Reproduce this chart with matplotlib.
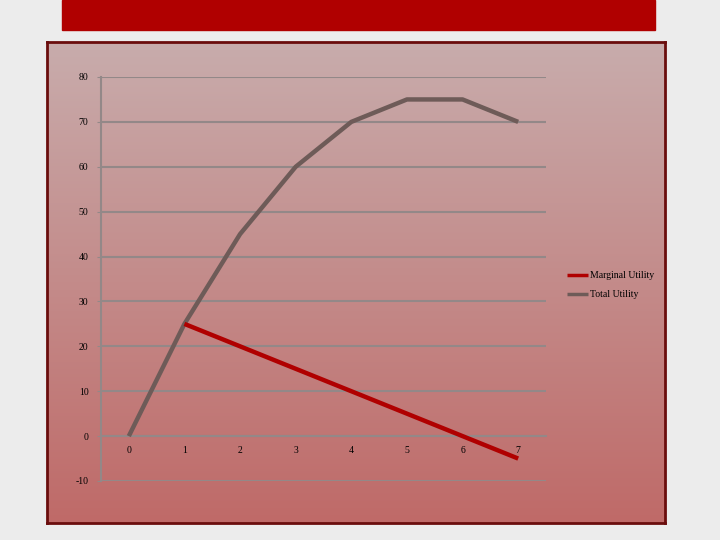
import numpy as np
import matplotlib
matplotlib.use("Agg")
import matplotlib.pyplot as plt
from matplotlib.patches import Rectangle

# === Données ===
quantity = [0, 1, 2, 3, 4, 5, 6, 7]
total_utility = [0, 25, 45, 60, 70, 75, 75, 70]
marginal_x = [1, 2, 3, 4, 5, 6, 7]
marginal_utility = [25, 20, 15, 10, 5, 0, -5]
y_ticks = [-10, 0, 10, 20, 30, 40, 50, 60, 70, 80]

plt.rcParams['font.family'] = ['Liberation Serif', 'DejaVu Serif']
plt.rcParams['axes.unicode_minus'] = False

fig = plt.figure(figsize=(7.2, 5.4), dpi=100)
fig.patch.set_facecolor('#ececec')

# Bandeau rouge en haut
fig.patches.append(Rectangle((62 / 720, 1 - 30 / 540), 593 / 720, 30 / 540,
                             transform=fig.transFigure, color='#b00000', zorder=0))

# Cadre du graphique avec dégradé
bx0, by0, bw, bh = 47 / 720, 1 - 523 / 540, 618 / 720, 481 / 540
bg = fig.add_axes([bx0, by0, bw, bh], zorder=0)
top = np.array([200, 172, 172]) / 255
bot = np.array([191, 106, 104]) / 255
t = np.linspace(0, 1, 256)[:, None]
grad = (top[None, :] * (1 - t) + bot[None, :] * t)[:, None, :]
bg.imshow(grad, aspect='auto', extent=[0, 1, 0, 1])
bg.set_xticks([])
bg.set_yticks([])
for s in bg.spines.values():
    s.set_color('#6a0d0d')
    s.set_linewidth(2)

# Axe principal
ax = fig.add_axes([101 / 720, 1 - 481 / 540, 445 / 720, 404 / 540], zorder=1)
ax.patch.set_alpha(0)
grid_c = '#938888'

ax.plot(quantity, total_utility, color='#6e5b58', lw=3.2, solid_capstyle='butt',
        label='Total Utility', zorder=3)
ax.plot(marginal_x, marginal_utility, color='#b00000', lw=3.2, solid_capstyle='butt',
        label='Marginal Utility', zorder=4)

ax.set_xlim(-0.5, 7.5)
ax.set_ylim(-10, 80)
ax.set_yticks(y_ticks)
ax.set_xticks(quantity)
ax.yaxis.grid(True, color=grid_c, lw=1.5)
ax.set_axisbelow(True)

for side in ['top', 'right']:
    ax.spines[side].set_visible(False)
ax.spines['left'].set_color(grid_c)
ax.spines['left'].set_linewidth(1.5)
ax.spines['bottom'].set_position(('data', 0))
ax.spines['bottom'].set_color(grid_c)
ax.spines['bottom'].set_linewidth(1.5)

ax.tick_params(axis='y', length=3, color=grid_c, labelsize=7, pad=6)
ax.tick_params(axis='x', length=0, labelsize=7, pad=7)

# Légende (Marginal en premier)
h, l = ax.get_legend_handles_labels()
leg = fig.legend([h[1], h[0]], [l[1], l[0]], loc='upper left',
                 bbox_to_anchor=(567 / 720, 1 - 271 / 540), frameon=False, fontsize=7,
                 handlelength=2.2, handletextpad=0.2, labelspacing=1.05,
                 borderpad=0, borderaxespad=0)
for line in leg.get_lines():
    line.set_linewidth(2.5)

fig.savefig('out.png', dpi=100, facecolor=fig.get_facecolor())
